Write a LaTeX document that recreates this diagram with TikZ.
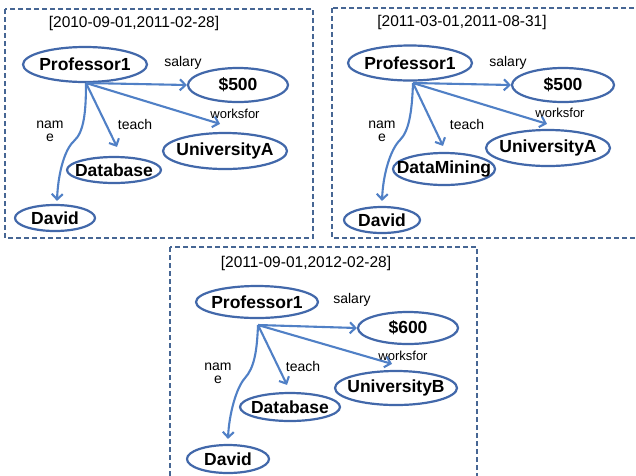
\documentclass[tikz,border=0pt]{standalone}
\usepackage{fontspec}
\setmainfont{Liberation Sans}
\usetikzlibrary{arrows.meta,calc,shapes.geometric}
\definecolor{ellc}{RGB}{66,104,170}
\definecolor{arrc}{RGB}{80,128,198}
\definecolor{boxc}{RGB}{70,102,148}
\newcommand\zwtext[1]{\makebox[0pt]{#1}}
\tikzset{
  ent/.style={ellipse, draw=ellc, line width=2.2pt, inner sep=0pt, text=black,
    font=\fontsize{17.5}{20}\selectfont\bfseries},
  rel/.style={draw=arrc, line width=2.1pt, -{Straight Barb[length=5.5pt,width=11pt]}},
  lbl/.style={inner sep=0pt, align=center, text=black, font=\fontsize{14}{13}\selectfont},
  lblsm/.style={inner sep=0pt, text=black, font=\fontsize{13}{13}\selectfont},
  ttl/.style={inner sep=0pt, text=black, font=\fontsize{15.5}{18}\selectfont},
  panelbox/.style={draw=boxc, line width=1.7pt, dash pattern=on 5pt off 3pt},
}
\begin{document}
\begin{tikzpicture}[x=1pt,y=-1pt]
\useasboundingbox[fill=white] (0,0) rectangle (636,475);

% ---------- panel 1 ----------
\draw[panelbox] (5,9) rectangle (313,238);
\node[ttl] (t1) at (134,23) {[2010-09-01,2011-02-28]};
\node[ent, minimum width=124pt, minimum height=35pt] (p1) at (85,64.5) {\zwtext{Professor1}};
\node[ent, minimum width=100pt, minimum height=34pt] (s1) at (238,85) {\zwtext{\$500}};
\node[ent, minimum width=124pt, minimum height=36pt] (u1) at (225,151) {\zwtext{UniversityA}};
\node[ent, minimum width=94pt, minimum height=26pt] (db1) at (114,170) {\zwtext{Database}};
\node[ent, minimum width=80pt, minimum height=26pt] (d1) at (55,218) {\zwtext{David}};
\coordinate (o1) at (86,83);
\node[lbl] (ls1) at (183,63) {salary};
\node[lblsm] (lw1) at (235,114) {worksfor};
\node[lbl] (lt1) at (135,124) {teach};
\node[lbl] (ln1) at (50,131) {nam\\e};
\draw[rel] (o1) -- (s1.west);
\draw[rel] (o1) -- ($(u1.north)+(-5,-8)$);
\draw[rel] (o1) -- ($(db1.north)+(3,-9)$);
\draw[rel] (o1) .. controls (86,112) and (84,132) .. (74,141)
  .. controls (64,150) and (58,175) .. ($(d1.north)+(2,-3)$);

% ---------- panel 2 ----------
\draw[panelbox] (332,8) rectangle (645,238);
\node[ttl] (t2) at (462,22) {[2011-03-01,2011-08-31]};
\node[ent, minimum width=124pt, minimum height=35pt] (p2) at (410,63) {\zwtext{Professor1}};
\node[ent, minimum width=102pt, minimum height=34pt] (s2) at (563,85) {\zwtext{\$500}};
\node[ent, minimum width=124pt, minimum height=36pt] (u2) at (548,148) {\zwtext{UniversityA}};
\node[ent, minimum width=102pt, minimum height=32pt] (dm2) at (444,169) {\zwtext{DataMining}};
\node[ent, minimum width=76pt, minimum height=26pt] (d2) at (382,220) {\zwtext{David}};
\coordinate (o2) at (413,83);
\node[lbl] (ls2) at (508,63) {salary};
\node[lblsm] (lw2) at (560,113) {worksfor};
\node[lbl] (lt2) at (467,124) {teach};
\node[lbl] (ln2) at (382,131) {nam\\e};
\draw[rel] (o2) -- (s2.west);
\draw[rel] (o2) -- ($(u2.north)+(-1,-5)$);
\draw[rel] (o2) -- ($(dm2.north)+(-1,-6)$);
\draw[rel] (o2) .. controls (412,112) and (409,131) .. (400,140)
  .. controls (390,150) and (383,175) .. ($(d2.north)+(0,-5)$);

% ---------- panel 3 ----------
\draw[panelbox] (170,247) rectangle (477,485);
\node[ttl] (t3) at (306,263) {[2011-09-01,2012-02-28]};
\node[ent, minimum width=122pt, minimum height=32pt] (p3) at (257,302) {\zwtext{Professor1}};
\node[ent, minimum width=100pt, minimum height=32pt] (s3) at (408,328) {\zwtext{\$600}};
\node[ent, minimum width=122pt, minimum height=34pt] (u3) at (396,388) {\zwtext{UniversityB}};
\node[ent, minimum width=100pt, minimum height=28pt] (db3) at (290,407) {\zwtext{Database}};
\node[ent, minimum width=82pt, minimum height=28pt] (d3) at (228,459) {\zwtext{David}};
\coordinate (o3) at (258,325);
\node[lbl] (ls3) at (352,300) {salary};
\node[lblsm] (lw3) at (403,356) {worksfor};
\node[lbl] (lt3) at (303,366) {teach};
\node[lbl] (ln3) at (218,373) {nam\\e};
\draw[rel] (o3) -- (s3.west);
\draw[rel] (o3) -- ($(u3.north)+(-4,-6)$);
\draw[rel] (o3) -- ($(db3.north)+(-3,-7)$);
\draw[rel] (o3) .. controls (257,352) and (254,368) .. (245,378)
  .. controls (236,388) and (229,415) .. ($(d3.north)+(0,-5)$);
\end{tikzpicture}
\end{document}
